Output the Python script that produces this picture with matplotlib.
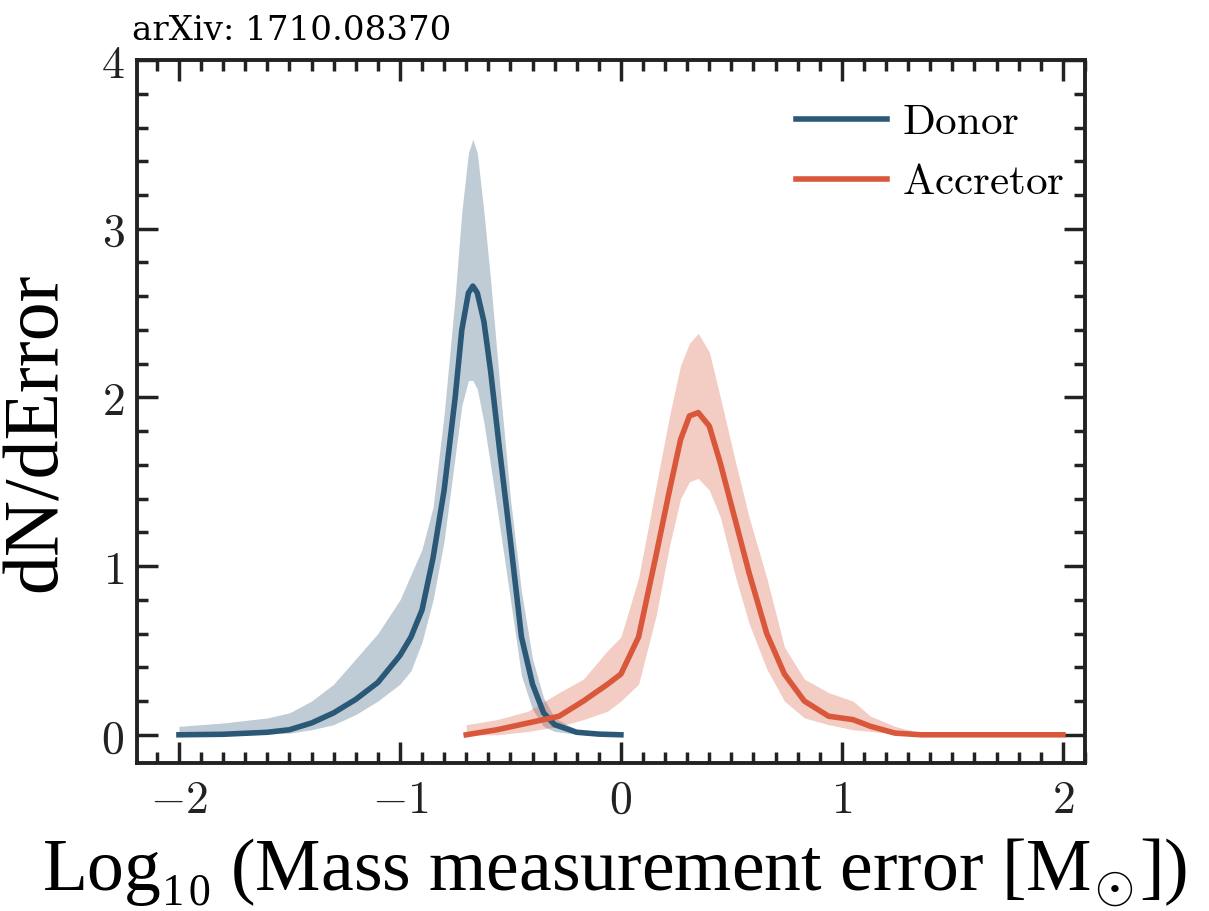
import numpy as np
import matplotlib
matplotlib.use('Agg')
import matplotlib.pyplot as plt
from matplotlib.ticker import MultipleLocator

plt.rcParams['mathtext.fontset'] = 'cm'

# donor: x grid, median and band edges
donor_x = [-2.0, -1.8, -1.6, -1.5, -1.4, -1.3, -1.2, -1.1, -1.0, -0.95, -0.9, -0.85, -0.8, -0.75,
           -0.72, -0.69, -0.67, -0.65, -0.62, -0.59, -0.55, -0.5, -0.45, -0.4, -0.35, -0.3, -0.2, -0.1, 0.0]
donor_mid = [0.0, 0.003, 0.015, 0.03, 0.07, 0.13, 0.21, 0.31, 0.47, 0.58, 0.74, 1.05, 1.45, 2.0,
             2.4, 2.62, 2.66, 2.62, 2.45, 2.16, 1.7, 1.15, 0.58, 0.3, 0.13, 0.06, 0.015, 0.004, 0.0]
donor_hi = [0.05, 0.07, 0.1, 0.13, 0.2, 0.3, 0.45, 0.6, 0.8, 0.95, 1.1, 1.35, 1.9, 2.6,
            3.1, 3.45, 3.53, 3.45, 3.1, 2.7, 2.1, 1.4, 0.85, 0.45, 0.22, 0.1, 0.03, 0.01, 0.0]
donor_lo = [0.0, 0.0, 0.005, 0.01, 0.03, 0.06, 0.12, 0.2, 0.3, 0.38, 0.55, 0.8, 1.15, 1.65,
            1.95, 2.1, 2.1, 2.05, 1.85, 1.6, 1.25, 0.8, 0.35, 0.15, 0.05, 0.02, 0.003, 0.0, 0.0]

# accretor
acc_x = [-0.7, -0.56, -0.42, -0.28, -0.17, -0.06, 0.0, 0.08, 0.16, 0.22, 0.27, 0.31, 0.35, 0.40,
         0.45, 0.52, 0.58, 0.66, 0.74, 0.83, 0.94, 1.05, 1.13, 1.24, 1.36, 1.6, 2.0]
acc_mid = [0.0, 0.03, 0.07, 0.11, 0.2, 0.3, 0.36, 0.58, 1.07, 1.45, 1.75, 1.89, 1.91, 1.83,
           1.61, 1.26, 0.96, 0.6, 0.36, 0.2, 0.11, 0.09, 0.05, 0.01, 0.0, 0.0, 0.0]
acc_hi = [0.06, 0.09, 0.14, 0.25, 0.33, 0.5, 0.58, 0.93, 1.48, 1.89, 2.19, 2.32, 2.38, 2.27,
          2.0, 1.61, 1.29, 0.93, 0.52, 0.33, 0.25, 0.2, 0.11, 0.05, 0.01, 0.0, 0.0]
acc_lo = [0.0, 0.0, 0.02, 0.05, 0.09, 0.14, 0.2, 0.3, 0.71, 1.12, 1.4, 1.5, 1.52, 1.45,
          1.29, 0.93, 0.66, 0.39, 0.2, 0.1, 0.06, 0.03, 0.02, 0.005, 0.0, 0.0, 0.0]

xticks = [-2, -1, 0, 1, 2]
yticks = [0, 1, 2, 3, 4]

blue = '#2c5878'
red = '#d9573a'

fig = plt.figure(figsize=(12.09, 9.11), dpi=100)
ax = fig.add_axes([0.1133, 0.1625, 0.7841, 0.7716])

ax.fill_between(donor_x, donor_lo, donor_hi, color=blue, alpha=0.3, lw=0)
ax.plot(donor_x, donor_mid, color=blue, lw=4, label=r'$\mathrm{Donor}$')
ax.fill_between(acc_x, acc_lo, acc_hi, color=red, alpha=0.3, lw=0)
ax.plot(acc_x, acc_mid, color=red, lw=4, label=r'$\mathrm{Accretor}$')

ax.set_xlim(-2.19, 2.1)
ax.set_ylim(-0.167, 4.0)
ax.set_xticks(xticks)
ax.set_xticklabels(['$%d$' % t for t in xticks])
ax.set_yticks(yticks)
ax.set_yticklabels(['$%d$' % t for t in yticks])
ax.xaxis.set_minor_locator(MultipleLocator(0.1))
ax.yaxis.set_minor_locator(MultipleLocator(0.2))
ax.tick_params(which='both', direction='in', top=True, right=True, width=2.5, labelsize=33, colors='#222222')
ax.tick_params(which='major', length=15)
ax.tick_params(which='minor', length=8)
ax.tick_params(axis='y', which='major', pad=9)
ax.tick_params(axis='x', which='major', pad=11)
for s in ax.spines.values():
    s.set_linewidth(2.8)
    s.set_color('#222222')

ax.legend(loc='upper right', bbox_to_anchor=(0.978, 0.942), fontsize=31, frameon=False,
          handlelength=2.1, labelspacing=0.42, borderaxespad=0, borderpad=0, handletextpad=0.35)

lbl_font = ['Liberation Serif', 'DejaVu Serif', 'DejaVu Sans']
ax.set_ylabel('dN/dError', family=lbl_font, fontsize=56)
ax.yaxis.set_label_coords(-0.068, 0.47)
ax.set_xlabel('Log\u2081\u2080 (Mass measurement error [M$_{\\odot}$])', family=lbl_font, fontsize=53)
ax.xaxis.set_label_coords(0.504, -0.104)
fig.text(0.109, 0.956, 'arXiv: 1710.08370', family=['DejaVu Serif'], fontsize=24.5, va='baseline')

fig.savefig('out.png', dpi=100)
